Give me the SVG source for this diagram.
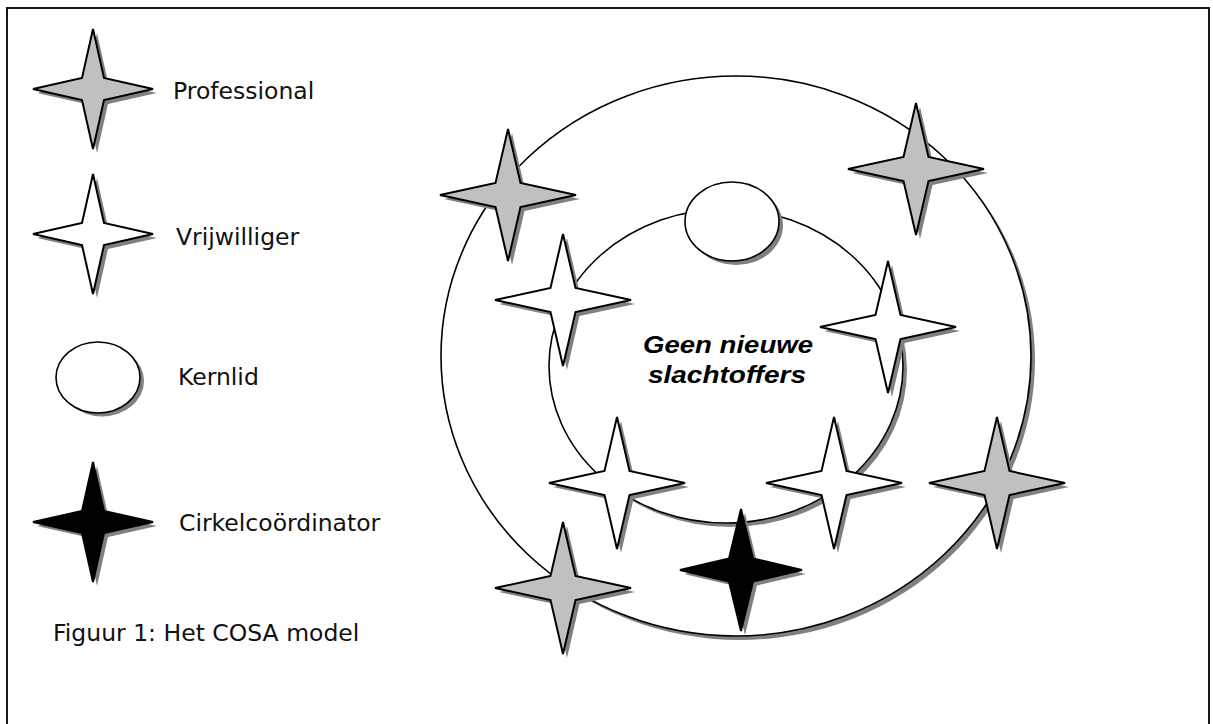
<svg xmlns="http://www.w3.org/2000/svg" xmlns:xlink="http://www.w3.org/1999/xlink" width="1213" height="724" viewBox="0 0 1213 724">
<style>
.lbl{font-family:"DejaVu Sans",Verdana,sans-serif;font-size:23.5px;fill:#111}
.mid{font-family:"Liberation Sans",Arial,sans-serif;font-size:23px;font-weight:bold;font-style:italic;fill:#000}
.shd{fill:#808080;stroke:none}
.st{stroke:#000;stroke-width:2;stroke-linejoin:miter}
.ell{fill:#fff;stroke:#000;stroke-width:1.6}
.pro{fill:#c0c0c0}
.vol{fill:#fff}
.coo{fill:#000}
</style>
<defs>
<polygon id="sL" points="0,-60 11,-11 60,0 11,11 0,60 -11,11 -60,0 -11,-11"/>
<polygon id="sM" points="0,-66 12.5,-12 68,0 12.5,12 0,66 -12.5,12 -68,0 -12.5,-12"/>
<polygon id="sC" points="0,-61 12,-11.5 61,0 12,11.5 0,61 -12,11.5 -61,0 -12,-11.5"/>
</defs>
<rect x="7" y="8" width="1202" height="730" fill="#fff" stroke="#000" stroke-width="1.8"/>

<g id="legend">
<g id="legend-professional">
<use xlink:href="#sL" class="shd" transform="translate(97,93)"/>
<use xlink:href="#sL" class="st pro" transform="translate(93,89)"/>
<text class="lbl" x="173" y="99">Professional</text>
</g>
<g id="legend-vrijwilliger">
<use xlink:href="#sL" class="shd" transform="translate(97,238)"/>
<use xlink:href="#sL" class="st vol" transform="translate(93,234)"/>
<text class="lbl" x="176" y="245">Vrijwilliger</text>
</g>
<g id="legend-kernlid">
<ellipse class="shd" cx="102" cy="381" rx="42" ry="35.5"/>
<ellipse class="ell" cx="98" cy="377.5" rx="42" ry="35.5"/>
<text class="lbl" x="178" y="385">Kernlid</text>
</g>
<g id="legend-coordinator">
<use xlink:href="#sL" class="shd" transform="translate(97,526)"/>
<use xlink:href="#sL" class="st coo" transform="translate(93,522)"/>
<text class="lbl" x="179" y="531">Cirkelcoördinator</text>
</g>
<text id="caption" class="lbl" x="53" y="641">Figuur 1: Het COSA model</text>
</g>

<g id="connectors"></g>

<g id="outer-circle">
<ellipse class="shd" cx="740" cy="360" rx="295" ry="280"/>
<ellipse class="ell" cx="736" cy="356" rx="295" ry="280"/>
</g>
<g id="inner-circle">
<ellipse class="shd" cx="730" cy="370" rx="177" ry="157"/>
<ellipse class="ell" cx="726" cy="366" rx="177" ry="157"/>
<text class="mid" x="728" y="353" text-anchor="middle" textLength="170" lengthAdjust="spacingAndGlyphs">Geen nieuwe</text>
<text class="mid" x="727" y="383" text-anchor="middle" textLength="158" lengthAdjust="spacingAndGlyphs">slachtoffers</text>
</g>
<g id="kernlid">
<ellipse class="shd" cx="736" cy="225.5" rx="47" ry="39.5"/>
<ellipse class="ell" cx="732" cy="221.5" rx="47" ry="39.5"/>
</g>

<g id="prof-1"><use xlink:href="#sM" class="shd" transform="translate(512,199)"/><use xlink:href="#sM" class="st pro" transform="translate(508,195)"/></g>
<g id="vrij-1"><use xlink:href="#sM" class="shd" transform="translate(567,304)"/><use xlink:href="#sM" class="st vol" transform="translate(563,300)"/></g>
<g id="prof-2"><use xlink:href="#sM" class="shd" transform="translate(920,173)"/><use xlink:href="#sM" class="st pro" transform="translate(916,169)"/></g>
<g id="vrij-2"><use xlink:href="#sM" class="shd" transform="translate(892,331)"/><use xlink:href="#sM" class="st vol" transform="translate(888,327)"/></g>
<g id="vrij-3"><use xlink:href="#sM" class="shd" transform="translate(621,487)"/><use xlink:href="#sM" class="st vol" transform="translate(617,483)"/></g>
<g id="vrij-4"><use xlink:href="#sM" class="shd" transform="translate(838,487)"/><use xlink:href="#sM" class="st vol" transform="translate(834,483)"/></g>
<g id="prof-3"><use xlink:href="#sM" class="shd" transform="translate(1001,487)"/><use xlink:href="#sM" class="st pro" transform="translate(997,483)"/></g>
<g id="coordinator"><use xlink:href="#sC" class="shd" transform="translate(745,574)"/><use xlink:href="#sC" class="st coo" transform="translate(741,570)"/></g>
<g id="prof-4"><use xlink:href="#sM" class="shd" transform="translate(567,592)"/><use xlink:href="#sM" class="st pro" transform="translate(563,588)"/></g>
</svg>
